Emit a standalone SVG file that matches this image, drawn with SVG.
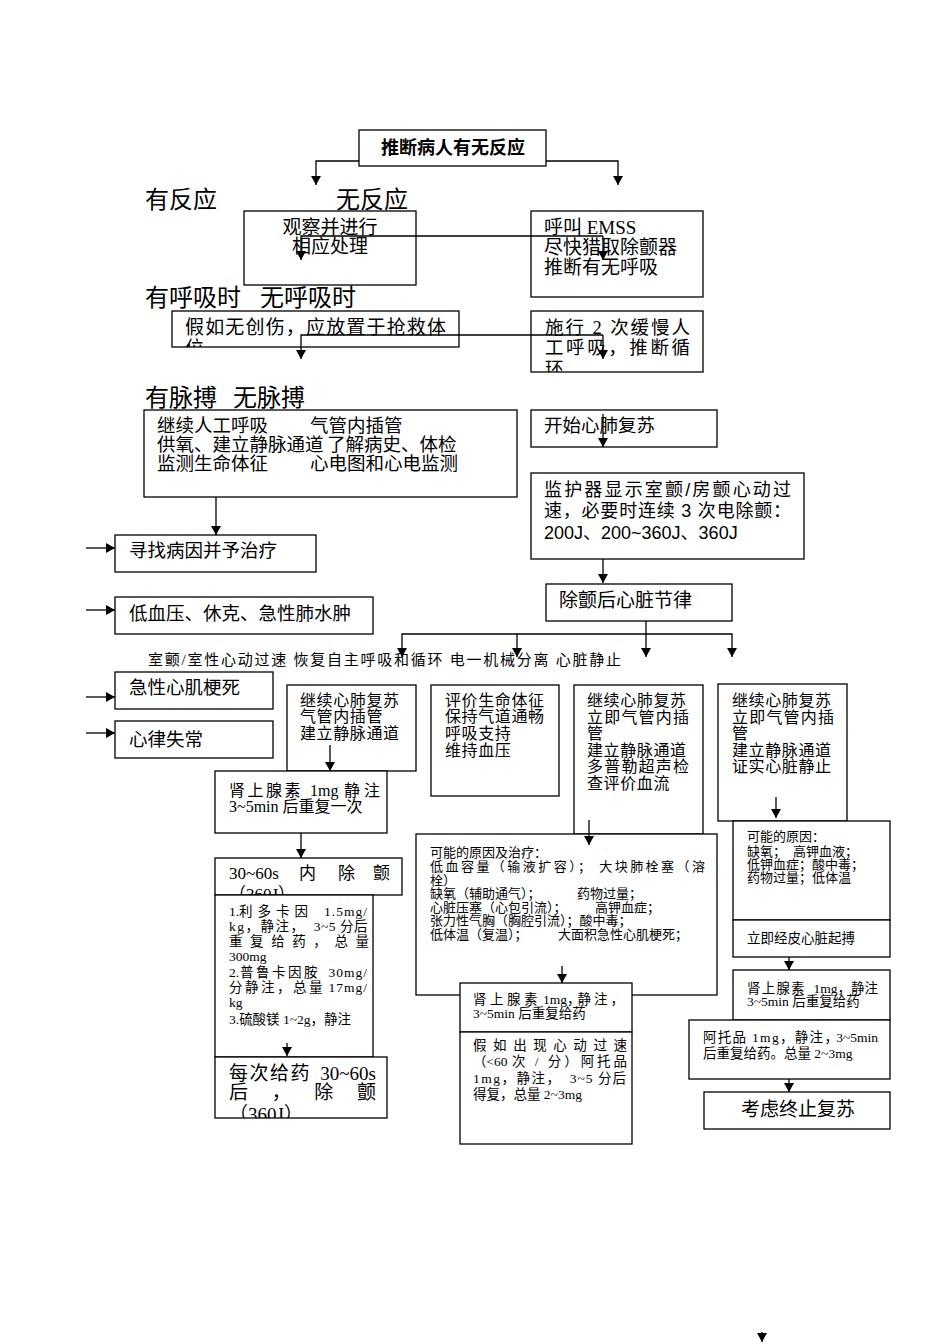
<svg xmlns="http://www.w3.org/2000/svg" width="950" height="1344" viewBox="0 0 950 1344">
<defs>
<marker id="ah" markerUnits="userSpaceOnUse" markerWidth="10" markerHeight="10" refX="9" refY="5" orient="auto"><path d="M0,0 L9,5 L0,10 z" fill="#000"/></marker>
<clipPath id="cp1"><rect x="172" y="311" width="287" height="36"/></clipPath>
<clipPath id="cp2"><rect x="531" y="311" width="172" height="61"/></clipPath>
<clipPath id="cp3"><rect x="215" y="858" width="187" height="37"/></clipPath>
<clipPath id="cp4"><rect x="215" y="1057" width="172" height="61"/></clipPath>
</defs>
<style>
.box{fill:#fff;stroke:#000;stroke-width:1.3}
.t{font-family:"Liberation Serif","Noto Sans CJK SC",serif;fill:#000}
.s{font-family:"Noto Sans CJK SC",sans-serif;fill:#000}
.ls{font-family:"Liberation Sans","Noto Sans CJK SC",sans-serif;fill:#000}
.f24{font-size:24px}
.f19{font-size:19px}
.f185{font-size:18.5px}
.f18{font-size:18px}
.f17{font-size:17px}
.f16{font-size:16px}
.f15{font-size:15px}
.f135{font-size:13.5px}
.f13{font-size:13px}
.c{fill:none;stroke:#000;stroke-width:1.3;marker-end:url(#ah)}
</style>
<rect width="950" height="1344" fill="#fff"/>

<g id="start">
<rect class="box" x="359" y="130" width="187" height="36"/>
<text class="s" x="453" y="154" font-size="18" font-weight="bold" text-anchor="middle">推断病人有无反应</text>
</g>

<g id="labels">
<text class="t f24" x="145" y="208">有反应</text>
<text class="t f24" x="336" y="208">无反应</text>
<text class="t f24" x="145" y="306">有呼吸时</text>
<text class="t f24" x="260" y="306">无呼吸时</text>
<text class="t f24" x="145" y="406">有脉搏</text>
<text class="t f24" x="233" y="406">无脉搏</text>
<text class="t f15" x="148" y="665" textLength="473" lengthAdjust="spacing">室颤/室性心动过速  恢复自主呼吸和循环  电一机械分离  心脏静止</text>
</g>

<g id="observe">
<rect class="box" x="244" y="211" width="172" height="74"/>
<text class="t f19" x="330" y="234" text-anchor="middle">观察并进行</text>
<text class="t f19" x="330" y="253" text-anchor="middle">相应处理</text>
</g>

<g id="call">
<rect class="box" x="531" y="211" width="172" height="86"/>
<text class="t f19" x="544" y="234">呼叫 EMSS</text>
<text class="t f19" x="544" y="254">尽快猎取除颤器</text>
<text class="t f19" x="544" y="274">推断有无呼吸</text>
</g>

<g id="position">
<rect class="box" x="172" y="311" width="287" height="36"/>
<g clip-path="url(#cp1)">
<text class="t f19" x="185" y="334" textLength="261" lengthAdjust="spacing">假如无创伤，应放置于抢救体</text>
<text class="t f19" x="185" y="355">位</text>
</g>
</g>

<g id="breaths">
<rect class="box" x="531" y="311" width="172" height="61"/>
<g clip-path="url(#cp2)">
<text class="t f185" x="545" y="334" textLength="145" lengthAdjust="spacing">施行 2 次缓慢人</text>
<text class="t f185" x="545" y="354" textLength="145" lengthAdjust="spacing">工呼吸，推断循</text>
<text class="t f185" x="545" y="375">环</text>
</g>
</g>

<g id="pulse">
<rect class="box" x="144" y="410" width="373" height="87"/>
<text class="t f185" x="157" y="432">继续人工呼吸</text>
<text class="t f185" x="310" y="432">气管内插管</text>
<text class="t f185" x="157" y="451">供氧、建立静脉通道</text>
<text class="t f185" x="327" y="451">了解病史、体检</text>
<text class="t f185" x="157" y="470">监测生命体征</text>
<text class="t f185" x="310" y="470">心电图和心电监测</text>
</g>

<g id="cpr">
<rect class="box" x="531" y="410" width="186" height="37"/>
<text class="t f185" x="544" y="432">开始心肺复苏</text>
</g>

<g id="monitor">
<rect class="box" x="531" y="473" width="273" height="86"/>
<text class="ls f18" x="544" y="496" textLength="247" lengthAdjust="spacing">监护器显示室颤/房颤心动过</text>
<text class="ls f18" x="544" y="517" textLength="247" lengthAdjust="spacing">速，必要时连续 3 次电除颤：</text>
<text class="ls f18" x="544" y="539">200J、200~360J、360J</text>
</g>

<g id="rhythm">
<rect class="box" x="546" y="584" width="186" height="37"/>
<text class="t f19" x="559" y="607">除颤后心脏节律</text>
</g>

<g id="find-cause">
<rect class="box" x="115" y="535" width="201" height="37"/>
<text class="t f185" x="129" y="557">寻找病因并予治疗</text>
</g>
<g id="hypotension">
<rect class="box" x="115" y="597" width="258" height="37"/>
<text class="t f185" x="129" y="620">低血压、休克、急性肺水肿</text>
</g>
<g id="ami">
<rect class="box" x="115" y="672" width="158" height="37"/>
<text class="t f185" x="129" y="694">急性心肌梗死</text>
</g>
<g id="arrhythmia">
<rect class="box" x="115" y="721" width="158" height="37"/>
<text class="t f185" x="129" y="746">心律失常</text>
</g>

<g id="vf-cpr">
<rect class="box" x="287" y="685" width="129" height="86"/>
<text class="t f16" x="300" y="706" letter-spacing="0.6">继续心肺复苏</text>
<text class="t f16" x="300" y="722" letter-spacing="0.6">气管内插管</text>
<text class="t f16" x="300" y="739" letter-spacing="0.6">建立静脉通道</text>
</g>
<g id="vf-epi">
<rect class="box" x="215" y="771" width="172" height="62"/>
<text class="t f16" x="229" y="796" letter-spacing="2.5">肾上腺素</text>
<text class="t f16" x="310" y="796">1mg</text>
<text class="t f16" x="344" y="796" letter-spacing="4">静注</text>
<text class="t f16" x="229" y="812">3~5min 后重复一次</text>
</g>
<g id="vf-shock">
<rect class="box" x="215" y="858" width="187" height="37"/>
<g clip-path="url(#cp3)">
<text class="t f17" x="229" y="879">30~60s</text>
<text class="t f17" x="299" y="879">内</text>
<text class="t f17" x="338" y="879">除</text>
<text class="t f17" x="373" y="879">颤</text>
<text class="t f17" x="229" y="900">（360J）</text>
</g>
</g>
<g id="vf-drugs">
<rect class="box" x="215" y="895" width="158" height="162"/>
<text class="t f135" x="229" y="916">1.</text>
<text class="t f135" x="239" y="916" letter-spacing="5">利多卡因</text>
<text class="t f135" x="368" y="916" text-anchor="end" letter-spacing="1">1.5mg/</text>
<text class="t f135" x="229" y="931" letter-spacing="1.5">kg，静注，</text>
<text class="t f135" x="368" y="931" text-anchor="end" letter-spacing="0.5">3~5 分后</text>
<text class="t f135" x="229" y="946" textLength="140" lengthAdjust="spacing">重 复 给 药 ， 总 量</text>
<text class="t f135" x="229" y="961">300mg</text>
<text class="t f135" x="229" y="977">2.</text>
<text class="t f135" x="240" y="977" letter-spacing="2.5">普鲁卡因胺</text>
<text class="t f135" x="368" y="977" text-anchor="end" letter-spacing="1">30mg/</text>
<text class="t f135" x="229" y="992" letter-spacing="2.5">分静注，总量</text>
<text class="t f135" x="368" y="992" text-anchor="end" letter-spacing="1">17mg/</text>
<text class="t f135" x="229" y="1007">kg</text>
<text class="t f135" x="229" y="1024">3.硫酸镁 1~2g，静注</text>
</g>
<g id="vf-repeat">
<rect class="box" x="215" y="1057" width="172" height="61"/>
<g clip-path="url(#cp4)">
<text class="t f19" x="229" y="1080" letter-spacing="1.5">每次给药</text>
<text class="t f19" x="376" y="1080" text-anchor="end">30~60s</text>
<text class="t f19" x="229" y="1099" textLength="147" lengthAdjust="spacing">后    ，    除    颤</text>
<text class="t f19" x="229" y="1121">（360J）</text>
</g>
</g>

<g id="rosc">
<rect class="box" x="431" y="685" width="128" height="111"/>
<text class="t f16" x="445" y="706" letter-spacing="0.6">评价生命体征</text>
<text class="t f16" x="445" y="722" letter-spacing="0.6">保持气道通畅</text>
<text class="t f16" x="445" y="739" letter-spacing="0.6">呼吸支持</text>
<text class="t f16" x="445" y="756" letter-spacing="0.6">维持血压</text>
</g>

<g id="pea">
<rect class="box" x="574" y="685" width="129" height="149"/>
<text class="t f16" x="587" y="706" letter-spacing="0.6">继续心肺复苏</text>
<text class="t f16" x="587" y="722.5" textLength="102" lengthAdjust="spacing">立即气管内插</text>
<text class="t f16" x="587" y="739">管</text>
<text class="t f16" x="587" y="755.5" letter-spacing="0.6">建立静脉通道</text>
<text class="t f16" x="587" y="772" textLength="102" lengthAdjust="spacing">多普勒超声检</text>
<text class="t f16" x="587" y="788.5" letter-spacing="0.6">查评价血流</text>
</g>
<g id="pea-causes">
<rect class="box" x="416" y="834" width="301" height="161"/>
<text class="t f13" x="430" y="857">可能的原因及治疗：</text>
<text class="t f13" x="430" y="871" textLength="275" lengthAdjust="spacing">低血容量（输液扩容）；  大块肺栓塞（溶</text>
<text class="t f13" x="430" y="885">栓）</text>
<text class="t f13" x="430" y="898">缺氧（辅助通气）；</text>
<text class="t f13" x="577" y="898">药物过量；</text>
<text class="t f13" x="430" y="912">心脏压塞（心包引流）；</text>
<text class="t f13" x="595" y="912">高钾血症；</text>
<text class="t f13" x="430" y="925">张力性气胸（胸腔引流）；酸中毒；</text>
<text class="t f13" x="430" y="939">低体温（复温）；</text>
<text class="t f13" x="558" y="939">大面积急性心肌梗死；</text>
</g>
<g id="pea-epi">
<rect class="box" x="460" y="983" width="172" height="49"/>
<text class="t f135" x="473" y="1004" letter-spacing="3.5">肾上腺素</text>
<text class="t f135" x="543" y="1004">1mg，</text>
<text class="t f135" x="627" y="1004" text-anchor="end" letter-spacing="3">静注，</text>
<text class="t f135" x="473" y="1018">3~5min 后重复给药</text>
</g>
<g id="pea-atropine">
<rect class="box" x="460" y="1032" width="172" height="112"/>
<text class="t f135" x="473" y="1050" textLength="154" lengthAdjust="spacing">假如出现心动过速</text>
<text class="t f135" x="473" y="1066">（&lt;60</text>
<text class="t f135" x="512" y="1066" textLength="115" lengthAdjust="spacing">次 / 分）阿托品</text>
<text class="t f135" x="473" y="1083" letter-spacing="1.5">1mg，静注，</text>
<text class="t f135" x="627" y="1083" text-anchor="end" letter-spacing="1">3~5 分后</text>
<text class="t f135" x="473" y="1099">得复，总量 2~3mg</text>
</g>

<g id="asystole">
<rect class="box" x="718" y="684" width="129" height="137"/>
<text class="t f16" x="732" y="706" letter-spacing="0.6">继续心肺复苏</text>
<text class="t f16" x="732" y="722.5" textLength="102" lengthAdjust="spacing">立即气管内插</text>
<text class="t f16" x="732" y="739">管</text>
<text class="t f16" x="732" y="755.5" letter-spacing="0.6">建立静脉通道</text>
<text class="t f16" x="732" y="772" letter-spacing="0.6">证实心脏静止</text>
</g>
<g id="asys-causes">
<rect class="box" x="733" y="821" width="157" height="99"/>
<text class="t f13" x="747" y="841">可能的原因：</text>
<text class="t f13" x="747" y="856">缺氧；</text>
<text class="t f13" x="793" y="856">高钾血液；</text>
<text class="t f13" x="747" y="869">低钾血症；酸中毒；</text>
<text class="t f13" x="747" y="882">药物过量；低体温</text>
</g>
<g id="asys-pacing">
<rect class="box" x="733" y="920" width="157" height="37"/>
<text class="t f135" x="747" y="943">立即经皮心脏起搏</text>
</g>
<g id="asys-epi">
<rect class="box" x="733" y="970" width="157" height="50"/>
<text class="t f135" x="747" y="993" letter-spacing="1.2">肾上腺素</text>
<text class="t f135" x="878" y="993" text-anchor="end">1mg，静注</text>
<text class="t f135" x="747" y="1006">3~5min 后重复给药</text>
</g>
<g id="asys-atropine">
<rect class="box" x="689" y="1020" width="201" height="59"/>
<text class="t f135" x="703" y="1042" letter-spacing="1.3">阿托品 1mg，静注，</text>
<text class="t f135" x="878" y="1042" text-anchor="end">3~5min</text>
<text class="t f135" x="703" y="1058">后重复给药。总量 2~3mg</text>
</g>
<g id="terminate">
<rect class="box" x="704" y="1092" width="186" height="37"/>
<text class="t f19" x="798" y="1116" text-anchor="middle">考虑终止复苏</text>
</g>

<g id="connectors">
<path class="c" d="M359,161 H316 V185"/>
<path class="c" d="M546,161 H618 V185"/>
<path class="c" d="M603,236 H301 V260"/>
<path class="c" d="M603,236 V260"/>
<path class="c" d="M603,335 H301 V359"/>
<path class="c" d="M603,335 V359"/>
<path class="c" d="M603,414 V447"/>
<path class="c" d="M216,497 V535"/>
<path class="c" d="M603,559 V583"/>
<path class="c" d="M646,621 V657"/>
<path class="c" d="M646,634 H402 V657"/>
<path class="c" d="M517,634 V657"/>
<path class="c" d="M646,634 H732 V657"/>
<path class="c" d="M86,548 H115"/>
<path class="c" d="M86,610 H115"/>
<path class="c" d="M86,697 H115"/>
<path class="c" d="M86,733 H115"/>
<path class="c" d="M330,745 V771"/>
<path class="c" d="M301,833 V858"/>
<path class="c" d="M287,1043 V1056"/>
<path class="c" d="M589,820 V845"/>
<path class="c" d="M562,966 V983"/>
<path class="c" d="M776,797 V818"/>
<path class="c" d="M789,957 V970"/>
<path class="c" d="M789,1079 V1092"/>
<path class="c" d="M762,1332 V1342"/>
</g>
</svg>
